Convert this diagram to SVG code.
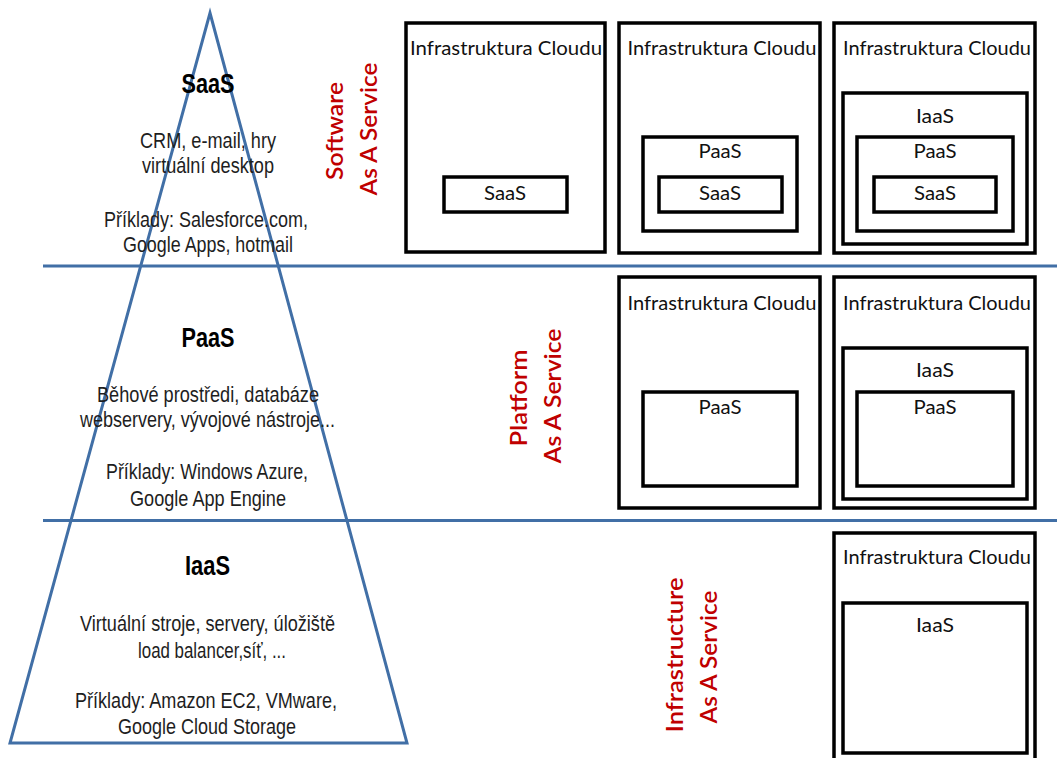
<svg xmlns="http://www.w3.org/2000/svg" width="1057" height="758" viewBox="0 0 1057 758">
<style>
.bg{fill:#ffffff}
.blue{stroke:#416fa6;stroke-width:3;fill:none}
.box{fill:none;stroke:#000;stroke-width:3.5}
.bt{font-family:Lato,"Open Sans","Liberation Sans",sans-serif;font-size:19.5px;fill:#111;text-anchor:middle}
.red{font-family:Lato,"Open Sans","Liberation Sans",sans-serif;font-size:23px;font-weight:600;fill:#c00000;text-anchor:middle}
.pt{font-family:"Liberation Sans Narrow","Liberation Sans",Arial,sans-serif;font-size:22.5px;fill:#1e1e1e;text-anchor:middle}
.ph{font-family:"Liberation Sans Narrow","Liberation Sans",Arial,sans-serif;font-size:27px;font-weight:bold;fill:#000;text-anchor:middle}
</style>
<rect class="bg" x="0" y="0" width="1057" height="758"/>

<g id="connectors">
  <line class="blue" x1="43" y1="266" x2="1057" y2="266"/>
  <line class="blue" x1="43" y1="520.5" x2="1057" y2="520.5"/>
</g>

<g id="pyramid">
  <polygon class="blue" points="210,13 407,743 10,743" stroke-linejoin="miter"/>
</g>

<g id="pyramid-saas">
  <text class="ph" x="208" y="93" textLength="53" lengthAdjust="spacingAndGlyphs">SaaS</text>
  <text class="pt" x="208" y="148" textLength="136" lengthAdjust="spacingAndGlyphs">CRM, e-mail, hry</text>
  <text class="pt" x="208" y="173" textLength="132" lengthAdjust="spacingAndGlyphs">virtuální  desktop</text>
  <text class="pt" x="206" y="227" textLength="204" lengthAdjust="spacingAndGlyphs">Příklady:  Salesforce.com,</text>
  <text class="pt" x="208" y="252" textLength="170" lengthAdjust="spacingAndGlyphs">Google Apps, hotmail</text>
</g>

<g id="pyramid-paas">
  <text class="ph" x="208" y="347" textLength="53" lengthAdjust="spacingAndGlyphs">PaaS</text>
  <text class="pt" x="208" y="402" textLength="222" lengthAdjust="spacingAndGlyphs">Běhové prostředi, databáze</text>
  <text class="pt" x="207.5" y="427" textLength="255" lengthAdjust="spacingAndGlyphs">webservery, vývojové  nástroje...</text>
  <text class="pt" x="207" y="479" textLength="202" lengthAdjust="spacingAndGlyphs">Příklady:  Windows Azure,</text>
  <text class="pt" x="208" y="506" textLength="156" lengthAdjust="spacingAndGlyphs">Google App Engine</text>
</g>

<g id="pyramid-iaas">
  <text class="ph" x="207.5" y="575" textLength="45" lengthAdjust="spacingAndGlyphs">IaaS</text>
  <text class="pt" x="207.5" y="631" textLength="255" lengthAdjust="spacingAndGlyphs">Virtuální stroje, servery, úložiště</text>
  <text class="pt" x="212" y="658" textLength="148" lengthAdjust="spacingAndGlyphs">load balancer,síť, ...</text>
  <text class="pt" x="206" y="708" textLength="262" lengthAdjust="spacingAndGlyphs">Příklady: Amazon EC2, VMware,</text>
  <text class="pt" x="207" y="734" textLength="178" lengthAdjust="spacingAndGlyphs">Google Cloud Storage</text>
</g>

<g id="label-saas">
  <text class="red" transform="translate(343,131) rotate(-90)" textLength="98" lengthAdjust="spacingAndGlyphs">Software</text>
  <text class="red" transform="translate(377,129) rotate(-90)" textLength="133" lengthAdjust="spacingAndGlyphs">As A Service</text>
</g>
<g id="label-paas">
  <text class="red" transform="translate(527,398) rotate(-90)" textLength="97" lengthAdjust="spacingAndGlyphs">Platform</text>
  <text class="red" transform="translate(561,396) rotate(-90)" textLength="135" lengthAdjust="spacingAndGlyphs">As A Service</text>
</g>
<g id="label-iaas">
  <text class="red" transform="translate(683,655) rotate(-90)" textLength="155" lengthAdjust="spacingAndGlyphs">Infrastructure</text>
  <text class="red" transform="translate(717,657) rotate(-90)" textLength="133" lengthAdjust="spacingAndGlyphs">As A Service</text>
</g>

<g id="cloud-a">
  <rect class="box" x="406" y="23" width="199" height="229"/>
  <text class="bt" x="506" y="55" textLength="192" lengthAdjust="spacingAndGlyphs">Infrastruktura Cloudu</text>
  <rect class="box" x="444" y="177" width="123" height="35"/>
  <text class="bt" x="505" y="200" textLength="42" lengthAdjust="spacingAndGlyphs">SaaS</text>
</g>

<g id="cloud-b">
  <rect class="box" x="619" y="23" width="201" height="230"/>
  <text class="bt" x="722" y="55" textLength="189" lengthAdjust="spacingAndGlyphs">Infrastruktura Cloudu</text>
  <rect class="box" x="643" y="137" width="154" height="94"/>
  <text class="bt" x="720" y="158" textLength="43" lengthAdjust="spacingAndGlyphs">PaaS</text>
  <rect class="box" x="659" y="177" width="123" height="35"/>
  <text class="bt" x="720" y="200" textLength="42" lengthAdjust="spacingAndGlyphs">SaaS</text>
</g>

<g id="cloud-c">
  <rect class="box" x="834" y="23" width="201" height="230"/>
  <text class="bt" x="937" y="55" textLength="188" lengthAdjust="spacingAndGlyphs">Infrastruktura Cloudu</text>
  <rect class="box" x="843" y="93" width="184" height="151"/>
  <text class="bt" x="935" y="123" textLength="38" lengthAdjust="spacingAndGlyphs">IaaS</text>
  <rect class="box" x="857" y="137" width="156" height="94"/>
  <text class="bt" x="935" y="158" textLength="43" lengthAdjust="spacingAndGlyphs">PaaS</text>
  <rect class="box" x="874" y="177" width="122" height="35"/>
  <text class="bt" x="935" y="200" textLength="42" lengthAdjust="spacingAndGlyphs">SaaS</text>
</g>

<g id="cloud-d">
  <rect class="box" x="619" y="277" width="201" height="231"/>
  <text class="bt" x="722" y="310" textLength="189" lengthAdjust="spacingAndGlyphs">Infrastruktura Cloudu</text>
  <rect class="box" x="643" y="392" width="154" height="94"/>
  <text class="bt" x="720" y="414" textLength="43" lengthAdjust="spacingAndGlyphs">PaaS</text>
</g>

<g id="cloud-e">
  <rect class="box" x="834" y="277" width="201" height="231"/>
  <text class="bt" x="937" y="310" textLength="188" lengthAdjust="spacingAndGlyphs">Infrastruktura Cloudu</text>
  <rect class="box" x="843" y="348" width="184" height="151"/>
  <text class="bt" x="935" y="377" textLength="38" lengthAdjust="spacingAndGlyphs">IaaS</text>
  <rect class="box" x="857" y="392" width="156" height="94"/>
  <text class="bt" x="935" y="414" textLength="43" lengthAdjust="spacingAndGlyphs">PaaS</text>
</g>

<g id="cloud-f">
  <rect class="box" x="834" y="533" width="201" height="240"/>
  <text class="bt" x="937" y="564" textLength="188" lengthAdjust="spacingAndGlyphs">Infrastruktura Cloudu</text>
  <rect class="box" x="843" y="603" width="184" height="150"/>
  <text class="bt" x="935" y="632" textLength="38" lengthAdjust="spacingAndGlyphs">IaaS</text>
</g>
</svg>
